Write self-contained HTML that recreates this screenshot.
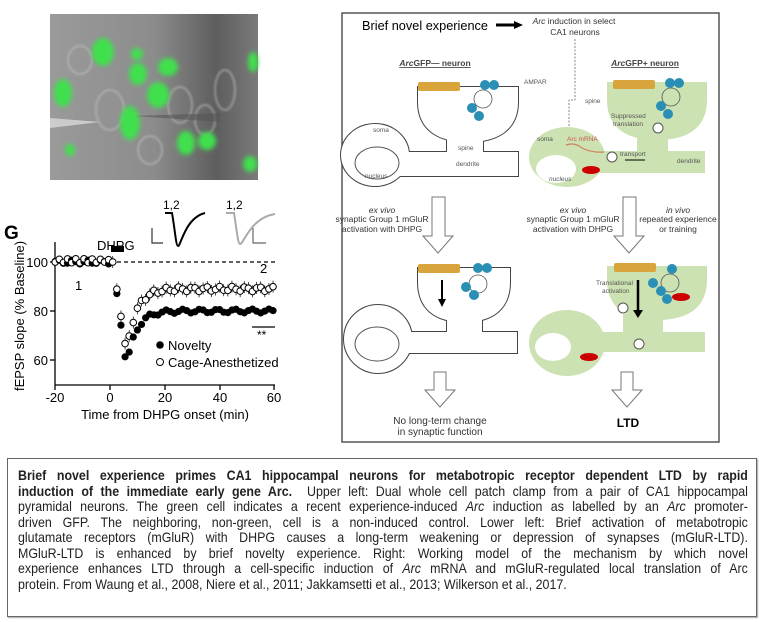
<!DOCTYPE html>
<html><head><meta charset="utf-8"><style>
body{margin:0;width:768px;height:622px;background:#fff;overflow:hidden;position:relative;font-family:"Liberation Sans",sans-serif}
#cap{position:absolute;left:7px;top:458px;width:750px;height:159px;box-sizing:border-box;border:1.5px solid #666;box-shadow:1px 1px 1px #aaa}
.ln{position:absolute;left:10px;width:811px;transform:scaleX(0.9);transform-origin:0 0;font-family:"Liberation Sans",sans-serif;font-size:13.8px;color:#222;white-space:nowrap;text-align:justify;text-align-last:justify;line-height:15px}
.ln.l{text-align-last:left}
</style></head><body>
<svg width="768" height="622" style="position:absolute;left:0;top:0" font-family="Liberation Sans, sans-serif">
<defs>
<filter id="bl"><feGaussianBlur stdDeviation="2.5"/></filter>
<filter id="bl1"><feGaussianBlur stdDeviation="1"/></filter>
<linearGradient id="pg" x1="0" x2="1"><stop offset="0" stop-color="#9a9a9a"/><stop offset="0.5" stop-color="#8c8c8c"/><stop offset="0.8" stop-color="#5e5e5e"/><stop offset="1" stop-color="#7a7a7a"/></linearGradient>
</defs>
<!-- photo -->
<rect x="50" y="14" width="208" height="166" fill="url(#pg)"/>
<g filter="url(#bl1)" fill="none" stroke="#c4c4c4" stroke-width="1.5" opacity="0.7">
<ellipse cx="110" cy="110" rx="14" ry="20"/><ellipse cx="180" cy="105" rx="12" ry="18"/><ellipse cx="205" cy="120" rx="10" ry="15"/>
<ellipse cx="80" cy="60" rx="12" ry="14"/><ellipse cx="150" cy="150" rx="12" ry="14"/><ellipse cx="225" cy="90" rx="10" ry="20"/>
</g>
<g filter="url(#bl)" fill="#3fe04e">
<ellipse cx="103" cy="52" rx="11" ry="14"/><ellipse cx="137" cy="54" rx="6" ry="6"/><ellipse cx="168" cy="67" rx="10" ry="9"/>
<ellipse cx="138" cy="74" rx="9" ry="11"/><ellipse cx="158" cy="95" rx="11" ry="13"/><ellipse cx="63" cy="93" rx="9" ry="14"/>
<ellipse cx="130" cy="123" rx="10" ry="17"/><ellipse cx="186" cy="143" rx="9" ry="12"/><ellipse cx="207" cy="141" rx="9" ry="9"/>
<ellipse cx="250" cy="164" rx="7" ry="8"/><ellipse cx="253" cy="62" rx="5" ry="10"/><ellipse cx="70" cy="150" rx="5" ry="6"/>
</g>
<path d="M50 118 L100 122 L50 128Z" fill="#d8d8d8" opacity="0.8"/>
<path d="M135 116 L220 113 L220 122Z" fill="#555" opacity="0.6"/>

<!-- graph -->
<text x="4" y="239" font-size="19" font-weight="bold">G</text>
<g stroke="#000" stroke-width="1.3">
<line x1="55" y1="242" x2="55" y2="385"/><line x1="55" y1="385" x2="275" y2="385"/>
<line x1="50" y1="262" x2="55" y2="262"/><line x1="50" y1="311" x2="55" y2="311"/><line x1="50" y1="360" x2="55" y2="360"/>
<line x1="55" y1="385" x2="55" y2="390"/><line x1="110" y1="385" x2="110" y2="390"/><line x1="165" y1="385" x2="165" y2="390"/><line x1="220" y1="385" x2="220" y2="390"/><line x1="274" y1="385" x2="274" y2="390"/>
<line x1="110" y1="262" x2="275" y2="262" stroke-dasharray="4,3"/>
<line x1="252" y1="327" x2="275" y2="327"/>
</g>
<g font-size="13" text-anchor="end"><text x="48" y="267">100</text><text x="48" y="316">80</text><text x="48" y="365">60</text></g>
<g font-size="13" text-anchor="middle"><text x="55" y="402">-20</text><text x="110" y="402">0</text><text x="165" y="402">20</text><text x="220" y="402">40</text><text x="274" y="402">60</text>
<text x="165" y="419">Time from DHPG onset (min)</text></g>
<text transform="translate(24,316) rotate(-90)" font-size="13" text-anchor="middle">fEPSP slope (% Baseline)</text>
<text x="97" y="250" font-size="13">DHPG</text>
<rect x="111" y="246" width="13" height="6"/>
<text x="75" y="290" font-size="13">1</text><text x="260" y="273" font-size="13">2</text>
<text x="257" y="339" font-size="12">**</text>
<g id="pts"></g>
<circle cx="160" cy="345" r="3.8"/><text x="168" y="350" font-size="13">Novelty</text>
<circle cx="160" cy="362" r="3.5" fill="#fff" stroke="#000"/><text x="168" y="367" font-size="13">Cage-Anesthetized</text>
<!-- traces -->
<text x="163" y="209" font-size="12">1,2</text><text x="226" y="209" font-size="12">1,2</text>
<path d="M165 213 L172 213 C175 230 176 246 178 246 C181 246 185 218 205 213" fill="none" stroke="#000" stroke-width="2"/>
<path d="M152 228 L152 243 L163 243" fill="none" stroke="#333" stroke-width="1.2"/>
<path d="M226 213 L234 213 C237 232 238 244 240 244 C244 244 250 218 275 214" fill="none" stroke="#aaa" stroke-width="2"/>
<path d="M253 228 L253 243 L266 243" fill="none" stroke="#666" stroke-width="1.2"/>

<!-- right panel -->
<rect x="342" y="13" width="377" height="429" fill="none" stroke="#555" stroke-width="1.5"/>
<text x="362" y="30" font-size="12.5" textLength="126" lengthAdjust="spacingAndGlyphs">Brief novel experience</text>
<path d="M496 25 L516 25" stroke="#000" stroke-width="3"/><path d="M514 21 L523 25 L514 29Z"/>
<text x="574" y="24" font-size="8.5" text-anchor="middle" fill="#333"><tspan font-style="italic">Arc</tspan> induction in select</text>
<text x="575" y="35" font-size="8.5" text-anchor="middle" fill="#333">CA1 neurons</text>
<path d="M575 39 L575 100 L569 100 L569 162" fill="none" stroke="#666" stroke-width="0.8" stroke-dasharray="2,1.5"/>
<text x="435" y="66" font-size="8.5" font-weight="bold" text-anchor="middle" fill="#444" text-decoration="underline"><tspan font-style="italic">Arc</tspan>GFP— neuron</text>
<text x="645" y="66" font-size="8.5" font-weight="bold" text-anchor="middle" fill="#444" text-decoration="underline"><tspan font-style="italic">Arc</tspan>GFP+ neuron</text>

<!-- left neuron top -->
<g stroke="#444" stroke-width="2" fill="none">
<path d="M418 87 H518 V102 C518 128 500 142 468 142 C436 142 418 128 418 102 Z"/>
<rect x="447" y="136" width="36" height="18"/><rect x="395" y="152" width="123" height="24"/>
<ellipse cx="375" cy="155" rx="34" ry="31"/>
</g>
<g fill="#fff">
<path d="M418 87 H518 V102 C518 128 500 142 468 142 C436 142 418 128 418 102 Z"/>
<rect x="447" y="136" width="36" height="18"/><rect x="395" y="152" width="123" height="24"/>
<ellipse cx="375" cy="155" rx="34" ry="31"/>
</g>
<ellipse cx="377" cy="163" rx="22" ry="16" fill="none" stroke="#555" stroke-width="1"/>
<!-- right neuron top -->
<g fill="#cde2b2">
<path d="M607 82 H707 V100 C707 126 690 140 657 140 C624 140 607 126 607 100 Z"/>
<rect x="637" y="134" width="31" height="20"/><rect x="590" y="151" width="115" height="22"/>
<ellipse cx="567" cy="157" rx="38" ry="30"/>
</g>
<ellipse cx="556" cy="169" rx="20" ry="14" fill="#fff"/>
<g font-size="6.5" fill="#555">
<text x="373" y="132">soma</text><text x="458" y="150">spine</text><text x="456" y="166">dendrite</text><text x="365" y="178">nucleus</text><text x="524" y="84">AMPAR</text>
<text x="537" y="141">soma</text><text x="585" y="103">spine</text><text x="677" y="163">dendrite</text><text x="549" y="181" font-style="italic">nucleus</text>
<text x="611" y="118">Suppressed</text><text x="613" y="126">translation</text><text x="620" y="156">transport</text>
<text x="567" y="141" fill="#c55">Arc mRNA</text>
</g>
<path d="M566 145 Q575 142 582 148 Q592 153 604 152" stroke="#d08060" fill="none" stroke-width="1.2"/>
<ellipse cx="591" cy="170" rx="9" ry="4" fill="#c00"/>
<line x1="625" y1="160" x2="645" y2="160" stroke="#000"/>
<circle cx="612" cy="157" r="5" fill="#fff" stroke="#555"/><circle cx="658" cy="128" r="5" fill="#fff" stroke="#555"/>

<!-- middle texts -->
<g font-size="8.5" text-anchor="middle" fill="#333">
<text x="382" y="213" font-style="italic">ex vivo</text><text x="382" y="222">synaptic Group 1 mGluR</text><text x="382" y="232">activation with DHPG</text>
<text x="573" y="213" font-style="italic">ex vivo</text><text x="573" y="222">synaptic Group 1 mGluR</text><text x="573" y="232">activation with DHPG</text>
<text x="678" y="213" font-style="italic">in vivo</text><text x="678" y="222">repeated experience</text><text x="678" y="232">or training</text>
</g>
<g fill="#fff" stroke="#777" stroke-width="1">
<path d="M432 197 L445 197 L445 236 L453 236 L438 253 L423 236 L432 236Z"/>
<path d="M623 197 L636 197 L636 236 L644 236 L629 253 L614 236 L623 236Z"/>
<path d="M434 372 L446 372 L446 390 L455 390 L440 407 L425 390 L434 390Z"/>
<path d="M621 372 L633 372 L633 390 L642 390 L627 407 L612 390 L621 390Z"/>
</g>

<!-- left neuron bottom -->
<g stroke="#444" stroke-width="2" fill="none">
<path d="M418 268 H510 V282 C510 308 494 322 464 322 C434 322 418 308 418 282 Z"/>
<rect x="447" y="316" width="35" height="18"/><rect x="395" y="332" width="122" height="21"/>
<ellipse cx="378" cy="339" rx="34" ry="34"/>
</g>
<g fill="#fff">
<path d="M418 268 H510 V282 C510 308 494 322 464 322 C434 322 418 308 418 282 Z"/>
<rect x="447" y="316" width="35" height="18"/><rect x="395" y="332" width="122" height="21"/>
<ellipse cx="378" cy="339" rx="34" ry="34"/>
</g>
<ellipse cx="377" cy="344" rx="22" ry="17" fill="none" stroke="#555" stroke-width="1"/>
<path d="M442 280 L442 300" stroke="#000" stroke-width="2"/><path d="M438 299 L446 299 L442 307Z"/>
<!-- right neuron bottom -->
<g fill="#cde2b2">
<path d="M607 266 H707 V280 C707 306 690 320 657 320 C624 320 607 306 607 280 Z"/>
<rect x="623" y="314" width="40" height="20"/><rect x="590" y="332" width="115" height="20"/>
<ellipse cx="567" cy="343" rx="38" ry="33"/>
</g>
<ellipse cx="553" cy="347" rx="18" ry="14" fill="#fff"/>
<ellipse cx="589" cy="357" rx="9" ry="4" fill="#c00"/><ellipse cx="681" cy="297" rx="9" ry="4" fill="#c00"/>
<path d="M638 280 L638 312" stroke="#000" stroke-width="2.5"/><path d="M633 310 L643 310 L638 318Z"/>
<text x="596" y="285" font-size="6.5" fill="#555">Translational</text><text x="602" y="293" font-size="6.5" fill="#555">activation</text>
<circle cx="623" cy="308" r="5" fill="#fff" stroke="#555"/><circle cx="639" cy="344" r="5" fill="#fff" stroke="#555"/>

<!-- mGluR boxes & receptors -->
<g fill="#d9a43c"><rect x="418" y="82" width="42" height="9" rx="2"/><rect x="613" y="80" width="42" height="9" rx="2"/><rect x="418" y="264" width="42" height="9" rx="2"/><rect x="614" y="263" width="42" height="9" rx="2"/></g>
<g fill="none" stroke="#555" stroke-width="0.8"><circle cx="483" cy="99" r="9"/><circle cx="671" cy="97" r="9"/><circle cx="478" cy="284" r="9"/><circle cx="670" cy="283" r="9"/></g>
<g fill="#2b8fb5">
<circle cx="485" cy="85" r="5"/><circle cx="494" cy="85" r="5"/><circle cx="472" cy="108" r="5"/><circle cx="479" cy="116" r="5"/>
<circle cx="670" cy="83" r="5"/><circle cx="679" cy="83" r="5"/><circle cx="661" cy="106" r="5"/><circle cx="668" cy="114" r="5"/>
<circle cx="478" cy="268" r="5"/><circle cx="487" cy="268" r="5"/><circle cx="466" cy="287" r="5"/><circle cx="474" cy="295" r="5"/>
<circle cx="672" cy="269" r="5"/><circle cx="653" cy="283" r="5"/><circle cx="661" cy="291" r="5"/><circle cx="667" cy="299" r="5"/>
</g>

<text x="440" y="424" font-size="10" text-anchor="middle" fill="#333">No long-term change</text>
<text x="440" y="435" font-size="10" text-anchor="middle" fill="#333">in synaptic function</text>
<text x="628" y="427" font-size="12" font-weight="bold" text-anchor="middle">LTD</text>
</svg>
<div id="cap">
<div class="ln" style="top:9px;font-weight:bold">Brief novel experience primes CA1 hippocampal neurons for metabotropic receptor dependent LTD by rapid</div>
<div class="ln" style="top:24.5px"><b>induction of the immediate early gene Arc.</b>&nbsp; Upper left: Dual whole cell patch clamp from a pair of CA1 hippocampal</div>
<div class="ln" style="top:40px">pyramidal neurons. The green cell indicates a recent experience-induced <i>Arc</i> induction as labelled by an <i>Arc</i> promoter-</div>
<div class="ln" style="top:55.5px">driven GFP. The neighboring, non-green, cell is a non-induced control. Lower left: Brief activation of metabotropic</div>
<div class="ln" style="top:71px">glutamate receptors (mGluR) with DHPG causes a long-term weakening or depression of synapses (mGluR-LTD).</div>
<div class="ln" style="top:86.5px">MGluR-LTD is enhanced by brief novelty experience. Right: Working model of the mechanism by which novel</div>
<div class="ln" style="top:102px">experience enhances LTD through a cell-specific induction of <i>Arc</i> mRNA and mGluR-regulated local translation of Arc</div>
<div class="ln l" style="top:117.5px">protein. From Waung et al., 2008, Niere et al., 2011; Jakkamsetti et al., 2013; Wilkerson et al., 2017.</div>
</div>
<script>
var g=document.getElementById('pts'),h='';
function X(t){return 110+t*2.74}function Y(v){return 262-(v-100)*2.45}
function nov(t){if(t<1)return 100+Math.sin(t*3)*0.8;if(t<6)return 100-43*(t-1)/5;return 80-23*Math.exp(-(t-6)/3.5)+Math.sin(t)*0.8}
function cag(t){if(t<1)return 100.5+Math.cos(t*2)*0.8;if(t<6)return 100-37*(t-1)/5;return 89-26*Math.exp(-(t-6)/3.5)+Math.sin(t*1.3)*1}
for(var t=-20;t<=60;t+=1.5){var y1=Y(cag(t)),y2=Y(nov(t));
if(t>0)h+='<line x1="'+X(t)+'" x2="'+X(t)+'" y1="'+(y1-6)+'" y2="'+(y1+6)+'" stroke="#000" stroke-width="0.7"/>';
h+='<circle cx="'+X(t)+'" cy="'+y2+'" r="3.6"/>';
h+='<circle cx="'+X(t)+'" cy="'+y1+'" r="3.3" fill="#fff" stroke="#000" stroke-width="1"/>';}
g.innerHTML=h;
</script>
</body></html>
